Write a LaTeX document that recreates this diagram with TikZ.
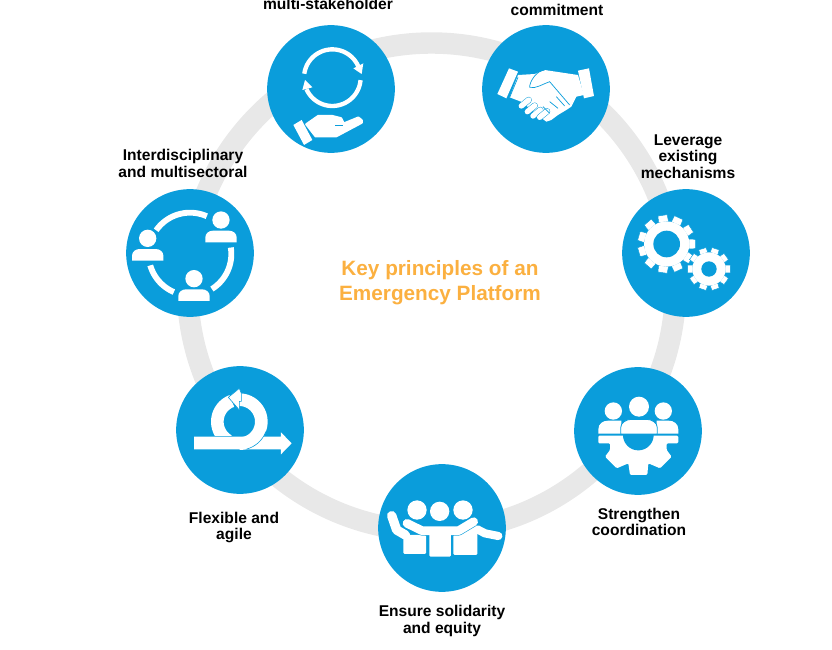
\documentclass[tikz,border=0pt]{standalone}
\usepackage{fontspec}
\setmainfont{Liberation Sans}
\definecolor{discblue}{HTML}{0A9DDB}
\definecolor{ringgrey}{HTML}{E8E8E8}
\definecolor{titleorange}{HTML}{FBB040}

\tikzset{
  disc/.style={circle, fill=discblue, minimum size=3.83cm, inner sep=0pt},
  tag/.style={align=center, inner sep=0pt, font=\bfseries\fontsize{13.3}{14}\selectfont},
  icon/.style={shift={(#1.center)}, x=0.01cm, y=-0.01cm},
  strip/.style={draw=discblue, line width=0.5pt}
}

% head and shoulders, (#1,#2) is the head
\newcommand{\personicon}[2]{
  \fill[white] (#1,#2) circle (26);
  \fill[white] (#1-47,#2+67) -- (#1-47,#2+52) .. controls (#1-47,#2+40) and (#1-36,#2+32) .. (#1-24,#2+32) -- (#1+24,#2+32) .. controls (#1+36,#2+32) and (#1+47,#2+40) .. (#1+47,#2+52) -- (#1+47,#2+67) -- cycle;
}

% x, y, outer radius, root radius, hole, teeth
\newcommand{\gearicon}[6]{
  \foreach \tooth in {1,...,#6}{
    \pgfmathsetmacro{\toothangle}{\tooth*360/#6}
    \pgfmathsetmacro{\toothwide}{140/#6}
    \pgfmathsetmacro{\tooththin}{100/#6}
    \filldraw[white, draw=discblue, line width=0.4pt, shift={(#1,#2)}]
      (\toothangle-\toothwide:#4) -- (\toothangle-\tooththin:#3) -- (\toothangle+\tooththin:#3) -- (\toothangle+\toothwide:#4) -- cycle;
  }
  \fill[white] (#1,#2) circle (#4);
  \fill[discblue] (#1,#2) circle (#5);
}

\begin{document}
\begin{tikzpicture}[x=0.03cm, y=-0.03cm]
  \useasboundingbox (0,0) rectangle (832,650);

  \draw[ringgrey, line width=18.3pt] (431.5,287) circle (244);

  \node[disc] (discHand)   at (331,89)  {};
  \node[disc] (discShake)  at (546,89)  {};
  \node[disc] (discGears)  at (686,253) {};
  \node[disc] (discTeam)   at (638,431) {};
  \node[disc] (discGroup)  at (442,528) {};
  \node[disc] (discLoop)   at (240,430) {};
  \node[disc] (discPeople) at (190,253) {};

  \node[font=\bfseries\fontsize{17.7}{21.3}\selectfont, text=titleorange, align=center, inner sep=0pt] (title) at (440,282.5) {Key principles of an\\Emergency Platform};

  \node[tag] (tagHand)   at (328,4)   {multi-stakeholder};
  \node[tag] (tagShake)  at (557,9.5) {commitment};
  \node[tag] (tagGears)  at (688,156.5) {Leverage\\existing\\mechanisms};
  \node[tag] (tagTeam)   at (639,522) {Strengthen\\coordination};
  \node[tag] (tagGroup)  at (442,621) {Ensure solidarity\\and equity};
  \node[tag] (tagLoop)   at (234,527.5) {Flexible and\\agile};
  \node[tag] (tagPeople) at (183,163.5) {Interdisciplinary\\and multisectoral};

  % hand under two arrows
  \begin{scope}[icon=discHand]
    \draw[white, line width=3.7pt] plot[domain=188:340, samples=30] ({4+85*cos(\x)},{-34+85*sin(\x)});
    \draw[white, line width=3.7pt] plot[domain=5:156, samples=30] ({4+85*cos(\x)},{-34+85*sin(\x)});
    \fill[white] (67,-62) -- (97,-77) -- (92,-45) -- cycle;
    \fill[white] (-86,3) -- (-78,-27) -- (-56,-5) -- cycle;
    \fill[white] (-113,108) -- (-88,93) -- (-56,153) -- (-81,168) -- cycle;
    \filldraw[white, line width=2pt, line join=round] (-74,106) -- (-38,81) -- (2,81) -- (30,88) -- (38,104) -- (82,86) -- (92,94) -- (92,101) -- (15,142) -- (-46,142) -- cycle;
    \draw[discblue, line width=0.7pt] (12,108) -- (37,108);
  \end{scope}

  % handshake
  \begin{scope}[icon=discShake]
    \fill[white] (-111,-62) -- (-84,-52) -- (-119,28) -- (-146,15) -- cycle;
    \fill[white] (96,-55) -- (129,-62) -- (144,21) -- (114,28) -- cycle;
    \fill[white] (-84,-42) -- (-34,-45) -- (-4,-57) -- (96,-42) -- (114,18) -- (91,23) -- (76,53) -- (61,63) -- (36,78) -- (16,93) -- (1,98) -- (-30,75) -- (-70,40) -- (-109,25) -- cycle;
    \foreach \tipx/\tipy in {-74/51, -56/68, -39/81, -19/85}{
      \draw[discblue, line width=5.4pt, line cap=round] (\tipx,\tipy) -- (\tipx+22,\tipy-18);
      \draw[white, line width=4.6pt, line cap=round] (\tipx,\tipy) -- (\tipx+22,\tipy-18);
    }
    \draw[discblue, line width=0.6pt] (-4,-57) .. controls (-30,-55) and (-50,-20) .. (-49,-5) .. controls (-30,0) and (-10,-15) .. (11,-22) -- (71,48);
    \draw[discblue, line width=0.6pt] (11,73) -- (-9,53) (36,58) -- (11,38) (56,51) -- (31,23);
    \draw[discblue, line width=0.6pt] (-109,25) -- (-84,-35);
  \end{scope}

  % two gears
  \begin{scope}[icon=discGears]
    \gearicon{-58}{-27}{88}{68}{40}{11}
    \gearicon{69}{48}{65}{50}{23}{10}
  \end{scope}

  % people on a gear
  \begin{scope}[icon=discTeam]
    \fill[white] (-74,-60) circle (26) (3,-73) circle (30) (76,-60) circle (26);
    \fill[white] (-119,8) -- (-119,-5) .. controls (-119,-22) and (-105,-31) .. (-90,-31) -- (-50,-31) -- (-50,8) -- cycle;
    \fill[white] (121,8) -- (121,-5) .. controls (121,-22) and (107,-31) .. (92,-31) -- (56,-31) -- (56,8) -- cycle;
    \filldraw[white, draw=discblue, line width=0.7pt] (-52,9) -- (-52,-10) .. controls (-52,-25) and (-35,-35) .. (-20,-35) -- (26,-35) .. controls (41,-35) and (58,-25) .. (58,-10) -- (58,9) -- cycle;
    \fill[white, rounded corners=1pt] (-119,14) -- (-119,37) -- (-84,37) -- (-84,57) -- (-99,77) -- (-64,112) -- (-29,97) -- (-24,132) -- (28,132) -- (31,97) -- (66,112) -- (101,77) -- (86,57) -- (86,37) -- (121,37) -- (121,14) -- cycle;
    \fill[discblue] (-45,12) -- (47,12) -- plot[domain=0:180, samples=30] ({1+46*cos(\x)},{12+46*sin(\x)}) -- cycle;
  \end{scope}

  % three people, arms on shoulders
  \begin{scope}[icon=discGroup]
    \fill[white] (-75,-54) circle (29) (-7,-50) circle (29) (63,-54) circle (29);
    \fill[white, rounded corners=1pt] (-116,21) -- (-48,21) -- (-48,78) -- (-116,78) -- cycle;
    \fill[white, rounded corners=1pt] (34,21) -- (106,-9) -- (106,81) -- (34,81) -- cycle;
    \draw[white, line width=8pt, line cap=round, line join=round] (-151,-37) -- (-136,6) -- (-110,21);
    \draw[white, line width=7pt, line cap=round, line join=round] (106,4) -- (129,16) -- (169,24);
    \draw[discblue, line width=8.4pt, line cap=round, line join=round] (-105,-14) -- (-60,8) -- (50,8) -- (95,-19);
    \draw[white, line width=7.4pt, line cap=round, line join=round] (-105,-14) -- (-60,8) -- (50,8) -- (95,-19);
    \fill[white, rounded corners=1pt] (-38,0) -- (27,0) -- (27,86) -- (-38,86) -- cycle;
  \end{scope}

  % loop with arrow
  \begin{scope}[icon=discLoop]
    \draw[white, line width=10.8pt] plot[domain=120:250, samples=30] ({-2+66*cos(\x)},{-25+66*sin(\x)});
    \draw[discblue, line width=0.7pt] (-90,18) -- (-20,18);
    \draw[white, line width=10.8pt] plot[domain=-90:90, samples=30] ({-2+66*cos(\x)},{-25+66*sin(\x)});
    \filldraw[white, draw=discblue, line width=0.5pt] (-2,-125) -- (-35,-98) -- (-2,-60) -- (-2,-86) -- (4,-86) -- (4,-110) -- cycle;
    \fill[white] (-138,20) -- (123,20) -- (123,7) -- (155,40) -- (123,73) -- (123,58) -- (-138,58) -- cycle;
    \draw[strip] plot[domain=20:75, samples=20] ({-2+85*cos(\x)},{-25+85*sin(\x)});
  \end{scope}

  % three people in a broken ring
  \begin{scope}[icon=discPeople]
    \draw[white, line width=5pt] plot[domain=215:294, samples=30] ({124*cos(\x)},{3+124*sin(\x)});
    \draw[white, line width=5pt] plot[domain=-9:58, samples=30] ({124*cos(\x)},{3+124*sin(\x)});
    \draw[white, line width=5pt] plot[domain=113:164, samples=30] ({124*cos(\x)},{3+124*sin(\x)});
    \personicon{-127}{-44}
    \personicon{93}{-99}
    \personicon{12}{77}
  \end{scope}
\end{tikzpicture}
\end{document}
